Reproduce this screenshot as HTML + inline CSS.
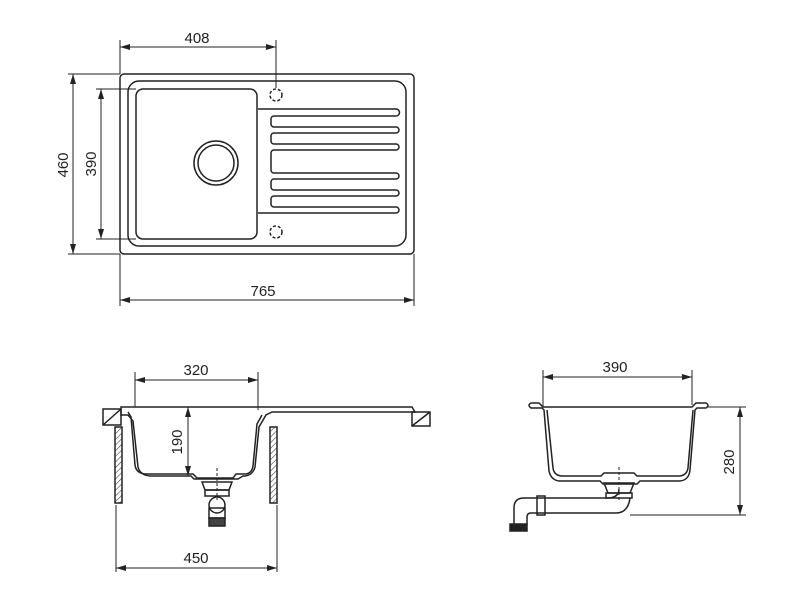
<!DOCTYPE html>
<html><head><meta charset="utf-8"><style>
html,body{margin:0;padding:0;background:#fff;width:800px;height:600px;overflow:hidden}
svg text{font-family:"Liberation Sans",sans-serif;font-size:15px;fill:#222}
</style></head><body>
<svg width="800" height="600" viewBox="0 0 800 600" xmlns="http://www.w3.org/2000/svg">
<defs>
<marker id="a" viewBox="0 0 10 6" refX="10" refY="3" markerWidth="10" markerHeight="6" orient="auto-start-reverse" markerUnits="userSpaceOnUse"><path d="M0,0L10,3L0,6z" fill="#222"/></marker>
<pattern id="h" width="4" height="4" patternUnits="userSpaceOnUse" patternTransform="rotate(45)"><line x1="0" y1="0" x2="0" y2="4" stroke="#444" stroke-width="1.2"/></pattern>
</defs>
<g fill="none" stroke="#222" stroke-width="1.5">
<rect x="120" y="74" width="294" height="180" rx="4"/>
<rect x="128" y="81" width="278" height="165" rx="11"/>
<rect x="136" y="89" width="121" height="150" rx="7"/>
<circle cx="216" cy="163" r="22"/><circle cx="216" cy="163" r="18"/>
<circle cx="276" cy="95" r="6" stroke-dasharray="3,2"/>
<circle cx="276" cy="232" r="6" stroke-dasharray="3,2"/>
<path d="M258,109H396a2,2 0 0 1 0,7H274a3,3 0 0 0 -3,3v5a3,3 0 0 0 3,3H396a2,2 0 0 1 0,6H274a3,3 0 0 0 -3,3v5a3,3 0 0 0 3,3H396a2,2 0 0 1 0,6H274a3,3 0 0 0 -3,3v17a3,3 0 0 0 3,3H396a2,2 0 0 1 0,6H274a3,3 0 0 0 -3,3v5a3,3 0 0 0 3,3H396a2,2 0 0 1 0,6H274a3,3 0 0 0 -3,3v5a3,3 0 0 0 3,3H396a2,2 0 0 1 0,6H258"/>
</g>
<g stroke="#222" stroke-width="1" fill="none">
<line x1="120" y1="40" x2="120" y2="74"/><line x1="276" y1="40" x2="276" y2="88"/>
<line x1="120" y1="47" x2="276" y2="47" marker-start="url(#a)" marker-end="url(#a)"/>
<line x1="68" y1="74" x2="120" y2="74"/><line x1="68" y1="254" x2="120" y2="254"/>
<line x1="73" y1="74" x2="73" y2="254" marker-start="url(#a)" marker-end="url(#a)"/>
<line x1="96" y1="89" x2="136" y2="89"/><line x1="96" y1="239" x2="136" y2="239"/>
<line x1="101" y1="89" x2="101" y2="239" marker-start="url(#a)" marker-end="url(#a)"/>
<line x1="120" y1="254" x2="120" y2="306"/><line x1="414" y1="254" x2="414" y2="306"/>
<line x1="120" y1="300" x2="414" y2="300" marker-start="url(#a)" marker-end="url(#a)"/>
</g>
<text x="197" y="43" text-anchor="middle">408</text>
<text x="263" y="296" text-anchor="middle">765</text>
<text transform="translate(68,165) rotate(-90)" text-anchor="middle">460</text>
<text transform="translate(96,164) rotate(-90)" text-anchor="middle">390</text>

<g fill="none" stroke="#222" stroke-width="1.5">
<path d="M121,407H412l3,5H272l-6,3l-7,12l-4,40q-2,8 -10,9H243l-5,3H194l-3,-3H150q-10,-1 -12,-9l-5,-46l-5,-6H121z"/>
<path d="M128,412l3,5l4,48q1,8 10,9h48l4,4h36l3,-4h10q6,-1 7,-8l4,-42l5,-9"/>
<rect x="103" y="409" width="18" height="16"/><line x1="103" y1="425" x2="121" y2="409"/>
<rect x="412" y="412" width="18" height="14"/><line x1="412" y1="426" x2="430" y2="412"/>
<rect x="115" y="427" width="7" height="76" fill="url(#h)"/>
<rect x="270" y="427" width="7" height="76" fill="url(#h)"/>
<path d="M202,482h30l-3,8h-24z"/><rect x="205" y="490" width="24" height="6"/>
<circle cx="217" cy="505" r="8"/>
<rect x="209" y="508" width="16" height="10"/><rect x="209" y="518" width="16" height="8" fill="#444"/>
</g>
<line x1="217" y1="468" x2="217" y2="500" stroke="#222" stroke-dasharray="3,2"/>
<g stroke="#222" stroke-width="1" fill="none">
<line x1="135" y1="372" x2="135" y2="407"/><line x1="258" y1="372" x2="258" y2="410"/>
<line x1="135" y1="380" x2="258" y2="380" marker-start="url(#a)" marker-end="url(#a)"/>
<line x1="188" y1="407" x2="188" y2="476" marker-start="url(#a)" marker-end="url(#a)"/>
<line x1="116" y1="505" x2="116" y2="572"/><line x1="277" y1="505" x2="277" y2="572"/>
<line x1="116" y1="568" x2="277" y2="568" marker-start="url(#a)" marker-end="url(#a)"/>
</g>
<text x="196" y="375" text-anchor="middle">320</text>
<text x="196" y="563" text-anchor="middle">450</text>
<text transform="translate(182,442) rotate(-90)" text-anchor="middle">190</text>

<g fill="none" stroke="#222" stroke-width="1.5">
<path d="M543,407H692l4,-4h10q4,2 0,5H697l-2,2l-5,60q-1,10 -10,11H640l-3,3H603l-3,-3H559q-8,-1 -10,-10l-5,-61l-2,-2H531q-4,-3 0,-5h8z"/>
<path d="M547,410l6,58q1,7 8,8h40l3,-3h30l3,3h43q7,-1 8,-8l5,-58"/>
<path d="M604,483h30l-4,10h-22z"/><rect x="606" y="493" width="26" height="5"/>
<path d="M536,498H607q12,0 12,-9M536,513H616q12,0 14,-15"/>
<rect x="537" y="496" width="8" height="19"/>
<path d="M536,498h-12q-10,0 -10,10v16M536,513h-5q-4,0 -4,4v8"/>
<rect x="510" y="524" width="17" height="7" fill="#222"/>
</g>
<line x1="619" y1="467" x2="619" y2="500" stroke="#222" stroke-dasharray="3,2"/>
<g stroke="#222" stroke-width="1" fill="none">
<line x1="543" y1="370" x2="543" y2="407"/><line x1="692" y1="370" x2="692" y2="405"/>
<line x1="543" y1="377" x2="692" y2="377" marker-start="url(#a)" marker-end="url(#a)"/>
<line x1="708" y1="407" x2="746" y2="407"/><line x1="630" y1="515" x2="746" y2="515"/>
<line x1="740" y1="407" x2="740" y2="515" marker-start="url(#a)" marker-end="url(#a)"/>
</g>
<text x="615" y="372" text-anchor="middle">390</text>
<text transform="translate(734,462) rotate(-90)" text-anchor="middle">280</text>
</svg>
</body></html>
